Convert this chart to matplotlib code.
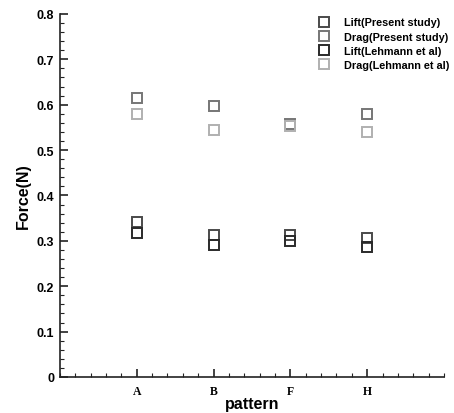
import matplotlib
matplotlib.use("Agg")
import matplotlib.pyplot as plt
from matplotlib.ticker import MultipleLocator, FixedLocator

patterns = ["A", "B", "F", "H"]
lift_present = [0.341, 0.313, 0.313, 0.307]
drag_present = [0.614, 0.597, 0.558, 0.580]
lift_lehmann = [0.318, 0.291, 0.299, 0.286]
drag_lehmann = [0.579, 0.544, 0.554, 0.540]

series = [
    ("Lift(Present study)", lift_present, "#4a4a4a"),
    ("Drag(Present study)", drag_present, "#767676"),
    ("Lift(Lehmann et al)", lift_lehmann, "#2a2a2a"),
    ("Drag(Lehmann et al)", drag_lehmann, "#b0b0b0"),
]

fig = plt.figure(figsize=(4.54, 4.14), dpi=100)
ax = fig.add_axes([0.132, 0.087, 0.846, 0.877])

xpos = list(range(1, len(patterns) + 1))
for label, vals, col in series:
    ax.plot(xpos, vals, linestyle="none", marker="s", markersize=7.5,
            markerfacecolor="none", markeredgecolor=col, markeredgewidth=1.4,
            label=label)

ax.set_xlim(0, 5)
ax.set_ylim(0, 0.8)
ax.xaxis.set_major_locator(FixedLocator(xpos))
ax.set_xticklabels(patterns, family="Liberation Serif", fontweight="bold", fontsize=8.5)
ax.xaxis.set_minor_locator(MultipleLocator(0.2))
ax.yaxis.set_minor_locator(MultipleLocator(0.02))
ax.set_yticks([0, 0.1, 0.2, 0.3, 0.4, 0.5, 0.6, 0.7, 0.8])
ax.set_yticklabels(["0", "0.1", "0.2", "0.3", "0.4", "0.5", "0.6", "0.7", "0.8"],
                   family="Liberation Sans", fontweight="bold", fontsize=9)

for s in ["top", "right"]:
    ax.spines[s].set_visible(False)
for s in ["left", "bottom"]:
    ax.spines[s].set_linewidth(1.2)
    ax.spines[s].set_color("#222222")

ax.tick_params(axis="both", which="major", direction="in", length=6, width=1.2, color="#222222")
ax.tick_params(axis="both", which="minor", direction="in", length=3, width=0.8, color="#222222")
ax.tick_params(axis="x", pad=6)
ax.tick_params(axis="y", pad=4)

ax.set_xlabel("pattern", family="Liberation Sans", fontweight="bold", fontsize=11.5, labelpad=-1)
ax.set_ylabel("Force(N)", family="Liberation Sans", fontweight="bold", fontsize=11.5, labelpad=4)

leg = ax.legend(loc="upper right", bbox_to_anchor=(1.04, 1.017), frameon=False,
                prop={"family": "Liberation Sans", "weight": "bold", "size": 7.8},
                handletextpad=1.4, labelspacing=0.38, handlelength=1.0)

fig.savefig("out.png", dpi=100)
